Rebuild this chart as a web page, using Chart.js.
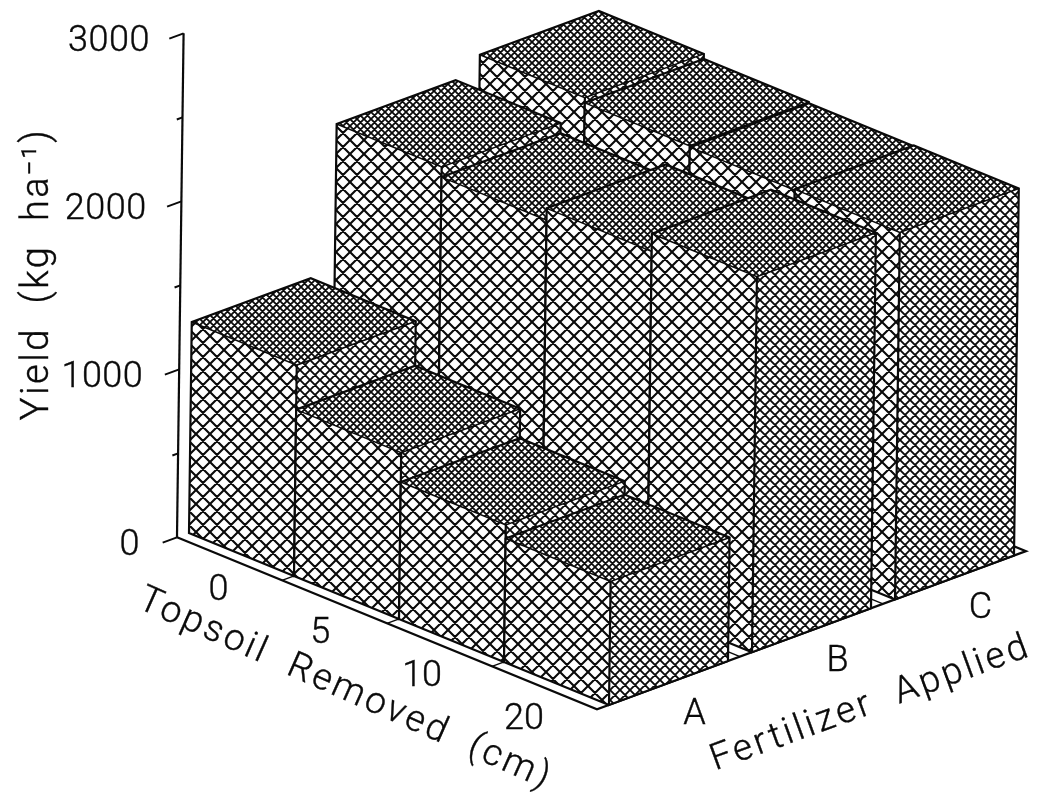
<!DOCTYPE html>
<html>
<head>
<meta charset="utf-8">
<title>Yield by topsoil removed and fertilizer applied</title>
<script src="https://cdn.jsdelivr.net/npm/chart.js@4/dist/chart.umd.min.js"></script>
<style>
  html, body { margin: 0; background: #fff; }
  canvas { display: block; }
</style>
</head>
<body>
<canvas id="yieldChart" width="1039" height="795"></canvas>
<script>
// Data
const topsoilRemoved = ["0", "5", "10", "20"];
const fertilizers = ["A", "B", "C"];
const yieldA = [1255, 990, 815, 735];
const yieldB = [2120, 2060, 2130, 2235];
const yieldC = [2218, 2188, 2180, 2185];
const yieldTicks = [0, 1000, 2000, 3000];
const yieldMinorTicks = [500, 1500, 2500];

// Oblique projection, x in canvas units and y in kg/ha
const origin = { x: 189, y: 24 };
const rowStep = { x: 105, y: -256 };
const colStep = { x: 143, y: 314 };
const riseSkew = 2.2 / 1000;
const barDepth = 0.832;
const floorInset = 0.084;
const INK = "#0a0a0a";
const FONT = "Roboto, sans-serif";

function project(row, col, value) {
  return {
    x: origin.x + row * rowStep.x + col * colStep.x + value * riseSkew,
    y: origin.y + row * rowStep.y + col * colStep.y + value
  };
}

function hatch(size, width) {
  const tile = document.createElement("canvas");
  tile.width = tile.height = size;
  const c = tile.getContext("2d");
  c.fillStyle = "#fff";
  c.fillRect(0, 0, size, size);
  c.strokeStyle = INK;
  c.lineWidth = width;
  c.beginPath();
  for (const k of [-size, 0, size]) {
    c.moveTo(k, 0);
    c.lineTo(k + size, size);
    c.moveTo(k, size);
    c.lineTo(k + size, 0);
  }
  c.stroke();
  return c.createPattern(tile, "repeat");
}

const hatches = {
  front: hatch(14, 2.1),
  side: hatch(10, 1.9),
  top: hatch(7, 1.8)
};

// A filled face has no line of its own, its edges are separate datasets
function face(points, faceFill) {
  return { data: points, faceFill: faceFill, showLine: false, pointRadius: 0 };
}

function edge(points, width) {
  return { data: points, showLine: true, borderColor: INK, borderWidth: width, pointRadius: 0, tension: 0 };
}

const datasets = [];

// Floor and its grid, these end up behind all the bars
const rowCount = topsoilRemoved.length;
const floorLow = -floorInset;
const floorHigh = fertilizers.length - floorInset;
datasets.push(edge([project(0, floorLow, 0), project(rowCount, floorLow, 0), project(rowCount, floorHigh, 0), project(0, floorHigh, 0)], 2.2));
topsoilRemoved.forEach((_, r) => {
  if (r > 0) datasets.push(edge([project(r, floorLow, 0), project(r, floorHigh, 0)], 1.5));
});
fertilizers.forEach((_, c) => {
  if (c > 0) datasets.push(edge([project(0, c + floorLow, 0), project(rowCount, c + floorLow, 0)], 1.5));
});

// Yield axis with slanted ticks
datasets.push(edge([project(0, floorLow, 0), project(0, floorLow, yieldTicks[yieldTicks.length - 1])], 2.2));
yieldTicks.forEach(v => datasets.push(edge([project(0, floorLow, v), project(0, floorLow - 0.1, v)], 2)));
yieldMinorTicks.forEach(v => datasets.push(edge([project(0, floorLow, v), project(0, floorLow - 0.04, v)], 2)));

// Bars, back to front
const yields = [yieldA, yieldB, yieldC];
for (let c = fertilizers.length - 1; c >= 0; c--) {
  for (let r = 0; r < rowCount; r++) {
    const v = yields[c][r];
    const near = c + barDepth;
    datasets.push(face([project(r, c, v), project(r, c, 0), project(r + 1, c, 0), project(r + 1, c, v)], hatches.front));
    datasets.push(face([project(r + 1, c, 0), project(r + 1, near, 0), project(r + 1, near, v), project(r + 1, c, v)], hatches.side));
    datasets.push(face([project(r, c, v), project(r, near, v), project(r + 1, near, v), project(r + 1, c, v)], hatches.top));
    // back and outer edges are heavy, the edges around the top face are light
    datasets.push(edge([project(r + 1, c, 0), project(r, c, 0), project(r, c, v), project(r, near, v), project(r + 1, near, v), project(r + 1, near, 0), project(r + 1, c, 0), project(r + 1, c, v)], 2.2));
    datasets.push(edge([project(r, c, v), project(r + 1, c, v), project(r + 1, near, v)], 1.5));
  }
}
datasets.forEach((d, i) => { d.order = datasets.length - i; });

// Fills each face under its outline so the bars hide each other in draw order
const faceFillPlugin = {
  id: "faceFill",
  beforeDatasetDraw(chart, args) {
    const dataset = chart.data.datasets[args.index];
    if (!dataset.faceFill) return;
    const ctx = chart.ctx;
    ctx.save();
    ctx.beginPath();
    args.meta.data.forEach((p, i) => (i ? ctx.lineTo(p.x, p.y) : ctx.moveTo(p.x, p.y)));
    ctx.closePath();
    ctx.fillStyle = dataset.faceFill;
    ctx.fill();
    ctx.restore();
  }
};

function drawText(ctx, text, x, y, size, angle, spacing, align) {
  ctx.save();
  ctx.translate(x, y);
  ctx.rotate((angle || 0) * Math.PI / 180);
  ctx.font = "300 " + size + "px " + FONT;
  ctx.letterSpacing = (spacing || 0) + "px";
  ctx.fillStyle = INK;
  ctx.strokeStyle = INK;
  ctx.lineWidth = 0.4;
  ctx.textAlign = align || "center";
  ctx.textBaseline = "middle";
  ctx.fillText(text, 0, 0);
  ctx.strokeText(text, 0, 0);
  ctx.restore();
}

const labelPlugin = {
  id: "labels",
  afterDatasetsDraw(chart) {
    const ctx = chart.ctx;
    const sx = chart.scales.x;
    const sy = chart.scales.y;
    const at = p => ({ x: sx.getPixelForValue(p.x), y: sy.getPixelForValue(p.y) });

    yieldTicks.forEach(v => {
      drawText(ctx, String(v), 140 + v * 3.3 / 1000, sy.getPixelForValue(v) + 9, 36, 0, 0.5, "right");
    });
    topsoilRemoved.forEach((t, r) => {
      const p = at(project(r + 0.5, 0, 0));
      drawText(ctx, t, p.x - 23 - 3.2 * r, p.y + 37, 36);
    });
    fertilizers.forEach((f, c) => {
      const p = at(project(rowCount, c + barDepth / 2, 0));
      drawText(ctx, f, p.x + 26, p.y + 32, 36);
    });

    drawText(ctx, "Yield  (kg  ha\u207B\u00B9)", 38, 274, 38, -90, 2.5);
    drawText(ctx, "Topsoil  Removed  (cm)", 345, 690, 37, 24, 3);
    drawText(ctx, "Fertilizer  Applied", 871, 704, 37, -20, 3.2);
  }
};

new Chart(document.getElementById("yieldChart"), {
  type: "scatter",
  data: { datasets: datasets },
  plugins: [faceFillPlugin, labelPlugin],
  options: {
    responsive: false,
    animation: false,
    layout: { padding: 0 },
    plugins: { legend: { display: false }, tooltip: { enabled: false } },
    scales: {
      x: { type: "linear", display: false, min: 0, max: 1039 },
      y: { type: "linear", display: false, min: -1536, max: 3196 }
    }
  }
});
</script>
</body>
</html>
